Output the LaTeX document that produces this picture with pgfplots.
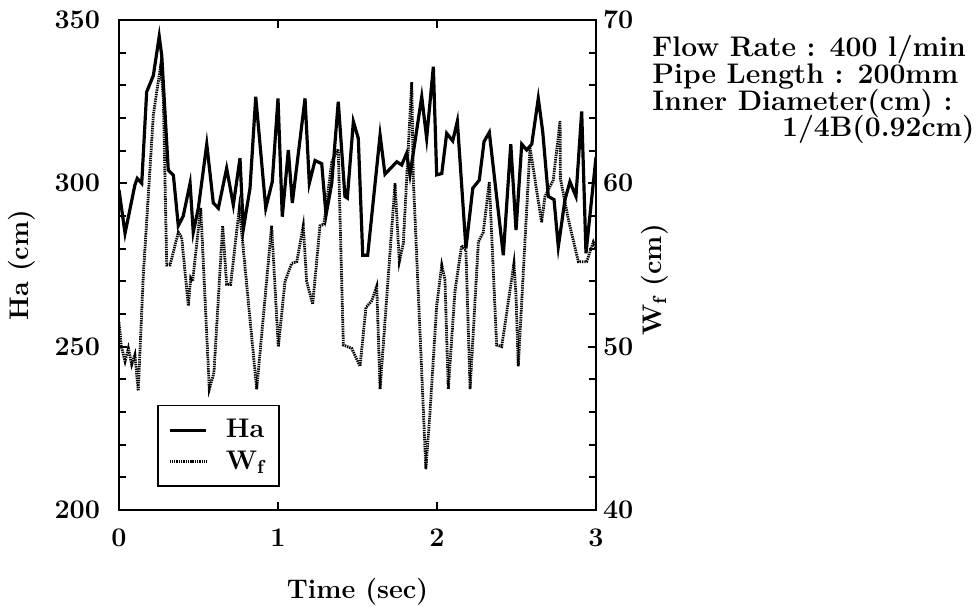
\documentclass[border=0pt]{standalone}
\usepackage{pgfplots}
\pgfplotsset{compat=1.18}
\newcommand{\ff}{\fontsize{13.5}{15}\selectfont\bfseries}
\newcommand{\fr}{\fontsize{14.2}{16}\selectfont\bfseries}
\pgfplotstableread{
t Ha
0 298
0.038 284.7
0.10 299.5
0.115 301.5
0.143 300
0.174 328
0.216 333
0.253 345
0.269 339
0.31 304
0.342 302.5
0.373 287
0.404 290
0.447 300
0.467 285
0.499 292.4
0.552 312
0.593 294
0.625 292.4
0.677 304.6
0.719 293.4
0.761 307.7
0.782 286
0.824 298.5
0.86 326.5
0.923 292.4
0.964 300.5
1.0 326
1.027 289.8
1.065 310.2
1.09 294
1.17 326
1.197 300
1.233 307
1.275 306
1.302 290.3
1.338 300
1.379 325
1.421 296
1.436 295.5
1.474 318.9
1.505 313.8
1.533 278
1.564 278
1.642 314.8
1.673 302.8
1.747 306.6
1.778 305.6
1.809 309.2
1.83 302.6
1.904 326.5
1.935 313.8
1.977 335.7
1.998 302.6
2.03 303
2.061 315.3
2.099 313
2.128 319
2.182 280.1
2.225 298.5
2.266 301
2.296 312.8
2.329 315.6
2.417 278
2.464 312
2.497 285.7
2.533 312
2.564 310.2
2.596 312
2.637 326
2.665 315.8
2.7 296
2.736 295
2.763 280.6
2.805 295
2.836 300.5
2.874 296
2.91 322
2.937 278.6
3.0 308
}\hatable
\pgfplotstableread{
t Wf
0 51.5
0.015 50
0.038 49.1
0.059 49.9
0.08 48.9
0.1 49.5
0.121 47.3
0.153 54.4
0.216 64.2
0.262 67.2
0.279 65.2
0.3 55
0.321 55
0.373 57
0.394 56.7
0.436 52.5
0.451 54.2
0.463 54
0.514 58.5
0.568 47.4
0.597 48.4
0.652 57.4
0.677 53.8
0.702 53.8
0.757 58.5
0.866 47.4
0.96 57.4
1.002 50.0
1.044 54
1.086 55.1
1.118 55.2
1.159 57.4
1.18 54
1.218 52.6
1.264 57.4
1.289 57.5
1.338 61.3
1.379 62.1
1.411 50.1
1.463 49.9
1.516 48.8
1.553 52.4
1.589 52.8
1.621 53.7
1.642 47.4
1.736 60
1.763 55.2
1.788 56.3
1.841 66.2
1.851 60.3
1.893 50.9
1.93 42.5
1.956 46
1.998 52.5
2.03 55
2.05 54.1
2.071 47.4
2.113 53.4
2.155 56.2
2.182 55.9
2.208 47.4
2.26 56.4
2.291 57
2.329 60.1
2.375 50.1
2.407 50
2.484 55.1
2.497 53.1
2.511 48.8
2.585 62.2
2.658 57.6
2.679 59.2
2.731 60.2
2.774 63.8
2.776 60.3
2.826 57.8
2.889 55.2
2.941 55.2
2.983 56.4
3.0 56
}\wftable
\begin{document}
\begin{tikzpicture}
\useasboundingbox (0,0) rectangle (489.5bp,303.5bp);
\pgfplotsset{
  common/.style={
    scale only axis,
    width=238.5bp, height=245bp,
    at={(59.5bp,48.5bp)}, anchor=south west,
    xmin=0, xmax=3,
    tick label style={font=\ff},
    major tick length=4bp, minor tick length=3.5bp,
    tick style={line width=0.9pt, black},
    axis line style={line width=1.2pt},
  },
  wfstyle/.style={black, line width=1.4pt, dash pattern=on 0.7pt off 0.45pt},
}
\begin{axis}[common,
  ymin=200, ymax=350,
  ytick={200,250,300,350}, yticklabels={\ff 200,\ff 250,\ff 300,\ff 350},
  minor y tick num=4,
  xtick={0,1,2,3}, xticklabels={\ff 0,\ff 1,\ff 2,\ff 3},
  ytick pos=left, xtick pos=both, xticklabel pos=lower,
  yticklabel style={xshift=-6bp},
  xticklabel style={yshift=-6bp},
  every axis x label/.style={at={(axis description cs:0.5,-0.167)}, anchor=center, font=\ff},
  every axis y label/.style={at={(axis description cs:-0.203,0.5)}, anchor=center, rotate=90, font=\ff},
  xlabel={Time (sec)}, ylabel={Ha (cm)},
  legend style={at={(axis description cs:0.08,0.047)}, anchor=south west, font=\ff, draw=black, line width=0.8pt, row sep=1pt, inner xsep=5pt, inner ysep=5pt,
    /tikz/every odd column/.append style={column sep=7pt}},
  legend image code/.code={\draw[#1] (0cm,0cm) -- (0.65cm,0cm);},
  legend cell align=left,
]
\addplot[black, line width=1.6pt] table[x=t, y=Ha] {\hatable};
\addlegendentry{Ha}
\addlegendimage{wfstyle}
\addlegendentry{W\textsubscript{f}}
\end{axis}
\begin{axis}[common,
  ymin=40, ymax=70,
  ytick={40,50,60,70}, yticklabels={\ff 40,\ff 50,\ff 60,\ff 70},
  minor y tick num=4,
  axis y line*=right, hide x axis,
  every axis y label/.style={at={(axis description cs:1.124,0.47)}, anchor=center, rotate=90, font=\ff},
  ylabel={W\textsubscript{f} (cm)},
]
\addplot[wfstyle] table[x=t, y=Wf] {\wftable};
\end{axis}
\node[font=\fr, anchor=base west, inner sep=0pt] at (326bp,275bp) {Flow Rate : 400 l/min};
\node[font=\fr, anchor=base west, inner sep=0pt] at (326bp,261.5bp) {Pipe Length : 200mm};
\node[font=\fr, anchor=base west, inner sep=0pt] at (326bp,248bp) {Inner Diameter(cm) :};
\node[font=\fr, anchor=base east, inner sep=0pt] at (487.5bp,235bp) {1/4B(0.92cm)};
\end{tikzpicture}
\end{document}
